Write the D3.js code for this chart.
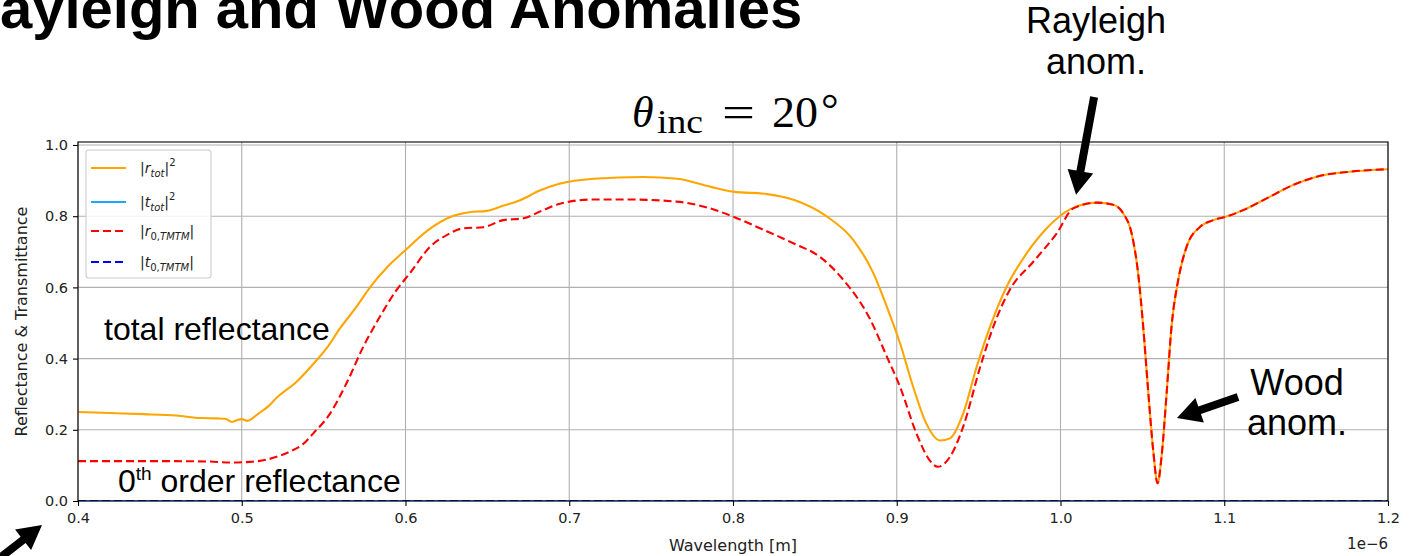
<!DOCTYPE html>
<html>
<head>
<meta charset="utf-8">
<script src="https://cdn.jsdelivr.net/npm/d3@7"></script>
<style>
  html, body { margin: 0; padding: 0; background: #ffffff; }
  svg { display: block; }
</style>
</head>
<body>
<svg id="chart" width="1409" height="556"></svg>
<script>
// Wavelength axis (in units of 1e-6 m) and reflectance axis ticks
const xTicks = [0.4, 0.5, 0.6, 0.7, 0.8, 0.9, 1.0, 1.1, 1.2];
const yTicks = [0.0, 0.2, 0.4, 0.6, 0.8, 1.0];
const xTickLabels = ["0.4", "0.5", "0.6", "0.7", "0.8", "0.9", "1.0", "1.1", "1.2"];
const yTickLabels = ["0.0", "0.2", "0.4", "0.6", "0.8", "1.0"];

// |r_tot|^2 : total reflectance
const wlTot = [0.400, 0.420, 0.440, 0.460, 0.475, 0.485, 0.490, 0.494, 0.497, 0.500,
  0.5035, 0.510, 0.516, 0.5213, 0.5335, 0.5437, 0.552, 0.560, 0.570, 0.5783,
  0.5885, 0.600, 0.615, 0.627, 0.639, 0.6496, 0.660, 0.670, 0.682, 0.694,
  0.715, 0.745, 0.766, 0.786, 0.800, 0.821, 0.837, 0.857, 0.8735, 0.8857,
  0.8939, 0.902, 0.910, 0.918, 0.9264, 0.9325, 0.9406, 0.9488, 0.957, 0.9671,
  0.9794, 0.9916, 1.0058, 1.0221, 1.0322, 1.0383, 1.0434, 1.0474, 1.0505, 1.0535,
  1.0566, 1.0593, 1.0617, 1.0648, 1.0678, 1.0719, 1.077, 1.0852, 1.0933, 1.1014,
  1.1116, 1.1259, 1.1422, 1.1564, 1.1768, 1.200];
const rTot = [0.250, 0.247, 0.244, 0.240, 0.233, 0.232, 0.231, 0.222, 0.227, 0.230,
  0.225, 0.245, 0.265, 0.290, 0.335, 0.385, 0.430, 0.485, 0.545, 0.600,
  0.655, 0.705, 0.765, 0.797, 0.811, 0.815, 0.830, 0.845, 0.872, 0.891,
  0.905, 0.910, 0.905, 0.883, 0.869, 0.862, 0.846, 0.800, 0.733, 0.640,
  0.546, 0.443, 0.321, 0.218, 0.170, 0.176, 0.246, 0.377, 0.490, 0.602,
  0.696, 0.766, 0.819, 0.838, 0.832, 0.808, 0.752, 0.640, 0.490, 0.312,
  0.143, 0.050, 0.124, 0.302, 0.490, 0.621, 0.714, 0.770, 0.789, 0.799,
  0.817, 0.850, 0.888, 0.911, 0.925, 0.932];

// |r_0,TMTM| : zeroth-order reflectance
const wlZero = [0.400, 0.450, 0.480, 0.493, 0.505, 0.515, 0.523, 0.530, 0.5375, 0.5437,
  0.554, 0.564, 0.5742, 0.5844, 0.5946, 0.6027, 0.615, 0.6252, 0.6353, 0.6475,
  0.6597, 0.672, 0.684, 0.6943, 0.7147, 0.735, 0.7656, 0.786, 0.800, 0.8165,
  0.8368, 0.853, 0.8674, 0.8837, 0.894, 0.902, 0.912, 0.920, 0.925, 0.9325,
  0.9406, 0.951, 0.959, 0.969, 0.9834, 0.9977, 1.0078, 1.0221, 1.0322, 1.0383,
  1.0434, 1.0474, 1.0505, 1.0535, 1.0566, 1.0593, 1.0617, 1.0648, 1.0678, 1.0719,
  1.077, 1.0852, 1.0933, 1.1014, 1.1116, 1.1259, 1.1422, 1.1564, 1.1768, 1.200];
const rZero = [0.112, 0.112, 0.111, 0.108, 0.110, 0.116, 0.127, 0.140, 0.160, 0.190,
  0.246, 0.331, 0.433, 0.518, 0.593, 0.640, 0.714, 0.747, 0.766, 0.769,
  0.789, 0.794, 0.817, 0.835, 0.847, 0.847, 0.841, 0.822, 0.799, 0.766,
  0.724, 0.686, 0.621, 0.511, 0.405, 0.321, 0.190, 0.115, 0.096, 0.124,
  0.209, 0.377, 0.490, 0.593, 0.672, 0.752, 0.822, 0.838, 0.832, 0.808,
  0.752, 0.640, 0.490, 0.312, 0.143, 0.050, 0.124, 0.302, 0.490, 0.621,
  0.714, 0.770, 0.789, 0.799, 0.817, 0.850, 0.888, 0.911, 0.925, 0.932];

// transmittance curves (opaque grating: nothing transmitted)
const wlTrans = [0.4, 0.6, 0.8, 1.0, 1.2];
const tTot = [0.0, 0.0, 0.0, 0.0, 0.0];
const tZero = [0.0, 0.0, 0.0, 0.0, 0.0];

const svg = d3.select("#chart");
const plot = { left: 78, right: 1388, top: 142, bottom: 501 };

const x = d3.scaleLinear().domain([0.4, 1.2]).range([plot.left, plot.right]);
const y = d3.scaleLinear().domain([0, 1.0084]).range([plot.bottom, plot.top]);

const tickFont = "'DejaVu Sans', sans-serif";
const slideFont = "'Liberation Sans', Arial, sans-serif";

// ---- slide title (runs off the left edge) ----
svg.append("text")
  .attr("x", -42).attr("y", 28)
  .attr("font-family", slideFont).attr("font-weight", "bold")
  .attr("font-size", 58).attr("fill", "#000")
  .text("Rayleigh and Wood Anomalies");

// ---- grid ----
const grid = svg.append("g").attr("stroke", "#b0b0b0").attr("stroke-width", 1.1);
grid.selectAll("line.gx").data(xTicks).join("line")
  .attr("x1", d => x(d)).attr("x2", d => x(d))
  .attr("y1", plot.top).attr("y2", plot.bottom);
grid.selectAll("line.gy").data(yTicks).join("line")
  .attr("x1", plot.left).attr("x2", plot.right)
  .attr("y1", d => y(d)).attr("y2", d => y(d));

// ---- curves ----
svg.append("defs").append("clipPath").attr("id", "plotclip")
  .append("rect").attr("x", plot.left).attr("y", plot.top)
  .attr("width", plot.right - plot.left).attr("height", plot.bottom - plot.top);

const line = d3.line().x(d => x(d[0])).y(d => y(d[1])).curve(d3.curveMonotoneX);
const zip = (a, b) => a.map((v, i) => [v, b[i]]);

const series = [
  { key: "rTot", data: zip(wlTot, rTot), color: "#ffa500", dash: null },
  { key: "tTot", data: zip(wlTrans, tTot), color: "#1ea7ff", dash: null },
  { key: "rZero", data: zip(wlZero, rZero), color: "#ff0000", dash: "8,4" },
  { key: "tZero", data: zip(wlTrans, tZero), color: "#0000ff", dash: "8,4" }
];

const curves = svg.append("g").attr("clip-path", "url(#plotclip)");
curves.selectAll("path").data(series).join("path")
  .attr("d", d => line(d.data))
  .attr("fill", "none")
  .attr("stroke", d => d.color)
  .attr("stroke-width", 2.1)
  .attr("stroke-dasharray", d => d.dash)
  .attr("stroke-linejoin", "round");

// ---- axes ----
const xAxis = d3.axisBottom(x).tickValues(xTicks)
  .tickFormat((d, i) => xTickLabels[i]).tickSize(5).tickPadding(7);
const yAxis = d3.axisLeft(y).tickValues(yTicks)
  .tickFormat((d, i) => yTickLabels[i]).tickSize(5).tickPadding(5);

const gx = svg.append("g").attr("transform", `translate(0,${plot.bottom})`).call(xAxis);
const gy = svg.append("g").attr("transform", `translate(${plot.left},0)`).call(yAxis);
[gx, gy].forEach(g => {
  g.select(".domain").remove();
  g.selectAll(".tick line").attr("stroke", "#000").attr("stroke-width", 1.1);
  g.selectAll(".tick text").attr("font-family", tickFont).attr("font-size", 14.5).attr("fill", "#222");
});

// frame
svg.append("rect")
  .attr("x", plot.left).attr("y", plot.top)
  .attr("width", plot.right - plot.left).attr("height", plot.bottom - plot.top)
  .attr("fill", "none").attr("stroke", "#000").attr("stroke-width", 1.1);

// axis labels
svg.append("text")
  .attr("x", (plot.left + plot.right) / 2).attr("y", 551)
  .attr("text-anchor", "middle")
  .attr("font-family", tickFont).attr("font-size", 16).attr("fill", "#222")
  .text("Wavelength [m]");
svg.append("text")
  .attr("x", plot.right).attr("y", 549)
  .attr("text-anchor", "end")
  .attr("font-family", tickFont).attr("font-size", 15).attr("fill", "#222")
  .text("1e\u22126");
svg.append("text")
  .attr("transform", `translate(27,${(plot.top + plot.bottom) / 2}) rotate(-90)`)
  .attr("text-anchor", "middle")
  .attr("font-family", tickFont).attr("font-size", 16).attr("fill", "#222")
  .text("Reflectance & Transmittance");

// ---- legend ----
const legend = svg.append("g");
legend.append("rect")
  .attr("x", 86).attr("y", 150).attr("width", 125).attr("height", 128)
  .attr("rx", 3).attr("fill", "#fff").attr("fill-opacity", 0.85)
  .attr("stroke", "#cccccc").attr("stroke-width", 1.1);

// label pieces: [text, italic, role] where role is base / sub / sup
const legendLabels = [
  [["|", false, "base"], ["r", true, "base"], ["tot", true, "sub"], ["|", false, "base"], ["2", false, "sup"]],
  [["|", false, "base"], ["t", true, "base"], ["tot", true, "sub"], ["|", false, "base"], ["2", false, "sup"]],
  [["|", false, "base"], ["r", true, "base"], ["0,", false, "sub"], ["TMTM", true, "sub"], ["|", false, "base"]],
  [["|", false, "base"], ["t", true, "base"], ["0,", false, "sub"], ["TMTM", true, "sub"], ["|", false, "base"]]
];
const legendRows = [168, 202, 231, 262];

series.forEach((s, i) => {
  const ry = legendRows[i];
  legend.append("line")
    .attr("x1", 91).attr("x2", 126).attr("y1", ry).attr("y2", ry)
    .attr("stroke", s.color).attr("stroke-width", 2.1)
    .attr("stroke-dasharray", s.dash);
  const t = legend.append("text")
    .attr("x", 140).attr("y", ry + 5)
    .attr("font-family", tickFont).attr("font-size", 14).attr("fill", "#222");
  let level = 0;
  legendLabels[i].forEach(([str, ital, role]) => {
    const target = role === "sub" ? 4 : role === "sup" ? -7 : 0;
    t.append("tspan")
      .attr("dy", target - level)
      .attr("font-style", ital ? "italic" : "normal")
      .attr("font-size", role === "base" ? 14 : 10)
      .text(str);
    level = target;
  });
});

// ---- incidence angle label ----
const thetaFont = "'Liberation Serif', 'Times New Roman', serif";
const th = svg.append("g").attr("font-family", thetaFont).attr("fill", "#000");
th.append("text").attr("x", 632).attr("y", 127).attr("font-size", 44).attr("font-style", "italic").text("\u03B8");
th.append("text").attr("x", 657).attr("y", 133).attr("font-size", 33)
  .attr("textLength", 46).attr("lengthAdjust", "spacingAndGlyphs").text("inc");
th.append("text").attr("x", 722).attr("y", 127).attr("font-size", 44)
  .attr("textLength", 33).attr("lengthAdjust", "spacingAndGlyphs").text("=");
th.append("text").attr("x", 772).attr("y", 127).attr("font-size", 44)
  .attr("textLength", 46).attr("lengthAdjust", "spacingAndGlyphs").text("20");
th.append("text").attr("x", 821).attr("y", 124).attr("font-size", 44).text("\u00B0");

// ---- annotations ----
const note = svg.append("g").attr("font-family", slideFont).attr("fill", "#000");
note.append("text").attr("x", 104).attr("y", 340).attr("font-size", 32).text("total reflectance");
const zt = note.append("text").attr("x", 118).attr("y", 492).attr("font-size", 32);
zt.append("tspan").text("0");
zt.append("tspan").attr("dy", -12).attr("font-size", 19).text("th");
zt.append("tspan").attr("dy", 12).text(" order reflectance");

note.append("text").attr("x", 1096).attr("y", 33).attr("font-size", 36).attr("text-anchor", "middle").text("Rayleigh");
note.append("text").attr("x", 1096).attr("y", 74).attr("font-size", 36).attr("text-anchor", "middle").text("anom.");
note.append("text").attr("x", 1297).attr("y", 395).attr("font-size", 36).attr("text-anchor", "middle").text("Wood");
note.append("text").attr("x", 1297).attr("y", 435).attr("font-size", 36).attr("text-anchor", "middle").text("anom.");

// block arrow from tail to tip
function arrow(x0, y0, x1, y1, shaft, headW, headL) {
  const dx = x1 - x0, dy = y1 - y0, len = Math.hypot(dx, dy);
  const ux = dx / len, uy = dy / len, nx = -uy, ny = ux;
  const bx = x1 - ux * headL, by = y1 - uy * headL;
  const pts = [
    [x0 + nx * shaft / 2, y0 + ny * shaft / 2],
    [bx + nx * shaft / 2, by + ny * shaft / 2],
    [bx + nx * headW / 2, by + ny * headW / 2],
    [x1, y1],
    [bx - nx * headW / 2, by - ny * headW / 2],
    [bx - nx * shaft / 2, by - ny * shaft / 2],
    [x0 - nx * shaft / 2, y0 - ny * shaft / 2]
  ];
  svg.append("path").attr("d", "M" + pts.map(p => p.join(",")).join("L") + "Z").attr("fill", "#000");
}
// Rayleigh anomaly: points at the kink near 1.01e-6 m
arrow(x(1.0205), y(1.135), x(1.0095), y(0.86), 8, 26, 24);
// Wood anomaly: points at the narrow dip
arrow(x(1.1084), y(0.292), x(1.0711), y(0.233), 8, 26, 24);
// arrow entering from the lower-left corner
arrow(-4, 561, 42, 525, 8, 26, 24);
</script>
</body>
</html>
